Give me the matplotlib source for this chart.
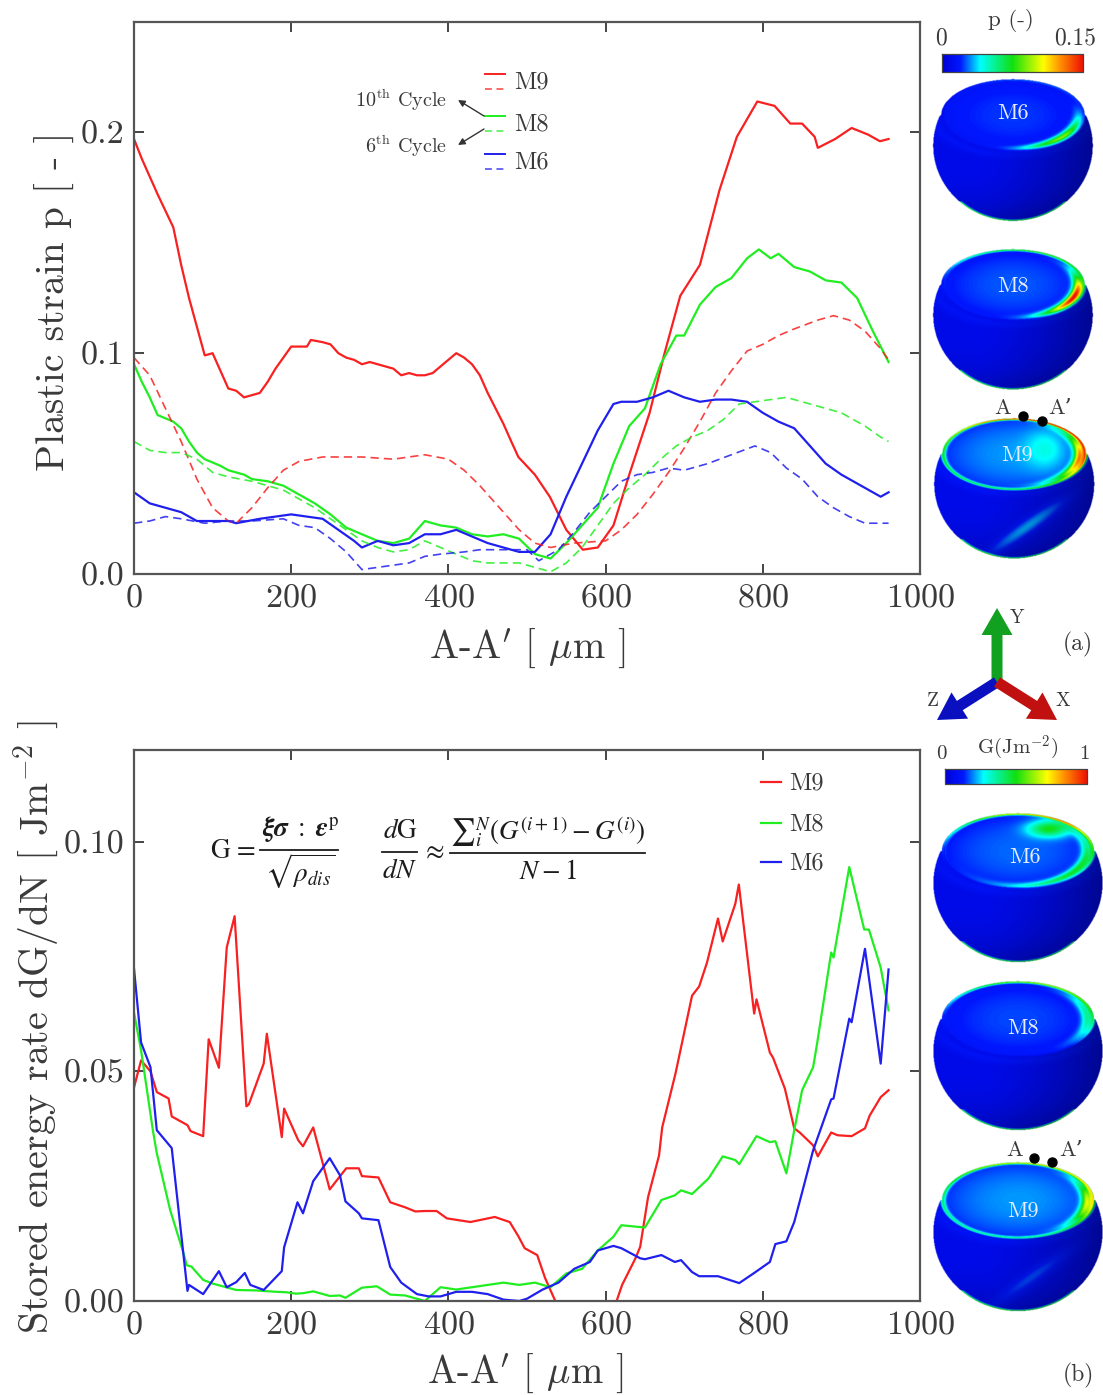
import numpy as np
import matplotlib
matplotlib.use("Agg")
import matplotlib.pyplot as plt
from matplotlib.colors import LinearSegmentedColormap
from matplotlib.patches import FancyArrow

# ================= data =================
x_m9_10 = [0, 10, 20, 30, 50, 60, 70, 80, 90, 100, 110, 120, 130, 140, 150, 160, 170, 180, 190, 200, 210, 220, 225, 240,
           250, 260, 270, 280, 290, 300, 310, 320, 330, 340, 350, 360, 370, 380, 390, 400, 410, 420, 430, 440, 450,
           460, 470, 480, 489, 510, 529, 550, 571, 590, 610, 631, 656, 675, 695, 720, 745, 767, 793, 815, 835, 850,
           866, 870, 892, 913, 934, 949, 960]
p_m9_10 = [.197, .188, .18, .172, .157, .14, .125, .112, .099, .1, .092, .084, .083, .08, .081, .082, .087, .093, .098,
           .103, .103, .103, .106, .105, .104, .1, .098, .097, .095, .096, .095, .094, .093, .09, .091, .09, .09, .091,
           .094, .097, .1, .098, .095, .09, .082, .075, .068, .06, .053, .045, .035, .02, .011, .012, .022, .046, .073,
           .1, .126, .14, .174, .198, .214, .212, .204, .204, .198, .193, .197, .202, .199, .196, .197]
x_m9_6 = [0, 20, 40, 60, 80, 100, 120, 130, 150, 170, 190, 210, 240, 260, 290, 330, 370, 400, 420, 440, 470, 490, 510,
          530, 560, 600, 620, 640, 660, 680, 700, 720, 740, 760, 780, 800, 820, 840, 870, 890, 910, 930, 950, 960]
p_m9_6 = [.098, .09, .075, .06, .043, .03, .024, .023, .03, .039, .047, .051, .053, .053, .053, .052, .054, .052, .047,
          .04, .028, .02, .014, .012, .014, .015, .02, .027, .036, .046, .057, .069, .082, .092, .101, .104, .108,
          .111, .115, .117, .115, .11, .102, .097]
x_m8_10 = [0, 10, 20, 30, 50, 60, 70, 80, 90, 110, 120, 140, 150, 170, 190, 210, 230, 250, 270, 290, 310, 330, 350, 370,
           390, 410, 430, 450, 470, 490, 510, 530, 550, 570, 590, 610, 630, 650, 670, 690, 700, 720, 740, 760, 780,
           795, 810, 820, 840, 860, 880, 900, 920, 940, 950, 960]
p_m8_10 = [.095, .087, .08, .072, .069, .066, .06, .055, .052, .049, .047, .045, .043, .042, .04, .036, .032, .027,
           .021, .018, .015, .014, .016, .024, .022, .021, .018, .017, .018, .016, .009, .007, .014, .022, .03, .05,
           .067, .075, .095, .108, .108, .122, .13, .134, .143, .147, .143, .145, .139, .137, .133, .132, .125, .11,
           .103, .096]
x_m8_6 = [0, 20, 40, 60, 80, 100, 120, 150, 170, 190, 210, 230, 250, 270, 290, 310, 330, 350, 370, 390, 410, 430, 450,
          470, 490, 510, 530, 550, 570, 590, 610, 630, 650, 670, 690, 710, 730, 750, 770, 790, 810, 830, 860, 880,
          900, 930, 950, 960]
p_m8_6 = [.06, .056, .055, .055, .052, .046, .044, .042, .04, .038, .034, .03, .025, .02, .015, .012, .01, .011, .015,
          .012, .009, .006, .005, .005, .005, .003, .001, .005, .012, .022, .032, .039, .045, .052, .058, .062, .065,
          .07, .077, .078, .079, .08, .077, .075, .073, .067, .062, .06]
x_m6_10 = [0, 20, 30, 40, 60, 80, 90, 120, 130, 160, 180, 200, 240, 260, 280, 290, 310, 330, 350, 370, 390, 410, 430,
           450, 470, 490, 510, 530, 550, 570, 590, 610, 620, 640, 660, 680, 700, 720, 740, 760, 780, 800, 820, 840,
           860, 880, 900, 920, 950, 960]
p_m6_10 = [.037, .032, .031, .03, .028, .024, .024, .024, .023, .025, .026, .027, .025, .02, .015, .012, .015, .013,
           .014, .018, .018, .02, .017, .014, .012, .01, .01, .018, .035, .05, .065, .077, .078, .078, .08, .083, .08,
           .078, .079, .079, .078, .073, .069, .066, .058, .05, .045, .041, .035, .037]
x_m6_6 = [0, 20, 40, 60, 90, 120, 150, 190, 210, 230, 250, 270, 290, 310, 330, 350, 370, 390, 420, 440, 470, 500, 515,
          540, 560, 580, 600, 620, 640, 660, 680, 700, 730, 760, 790, 810, 830, 850, 870, 890, 910, 930, 960]
p_m6_6 = [.023, .024, .026, .025, .023, .024, .024, .025, .022, .021, .016, .01, .002, .003, .004, .005, .008, .009,
          .01, .011, .011, .011, .006, .011, .019, .028, .035, .042, .045, .046, .048, .047, .05, .054, .058, .055,
          .048, .043, .035, .03, .026, .023, .023]

x_g_m9 = [0, 9, 21, 29, 44, 48, 68, 72, 88, 95, 108, 118, 128, 143, 146, 165, 169, 188, 191, 209, 215, 228, 249, 270,
          286, 290, 311, 326, 345, 358, 370, 385, 398, 428, 459, 478, 489, 497, 513, 523, 536, 570, 612, 621, 638,
          644, 654, 668, 672, 689, 710, 719, 729, 743, 749, 765, 769.5, 789, 792, 809, 813, 828, 840, 847, 864, 870,
          887, 895, 913, 930, 936, 950, 960]
g_m9 = [.0465, .0524, .05, .0455, .0441, .0402, .0383, .037, .0359, .057, .0508, .077, .0838, .0424, .0428, .0517,
        .0582, .0357, .0419, .035, .0337, .0378, .0243, .0289, .0289, .0272, .0269, .0215, .0204, .0195, .0196, .0196,
        .018, .0172, .0183, .0172, .0141, .0115, .01, .005, 0, -.02, -.001, .0035, .0093,
        .0118, .0226, .0317, .0378, .0496, .0665, .0685, .0737, .0833, .0783, .0865, .0907, .0626, .0657, .0541, .053,
        .0463, .0376, .0367, .0339, .0315, .0367, .0361, .0359, .0376, .0404, .0444, .0459]
x_g_m8 = [0, 9, 16, 24, 29, 46, 63, 67, 73, 88, 100, 130, 155, 181, 194, 206, 215, 228, 249, 262, 269, 290, 309, 326,
          345, 370, 390, 410, 430, 470, 490, 510, 530, 550, 570, 590, 610, 620, 644, 650, 671, 688, 696, 710, 731, 749,
          765, 770, 792, 809, 816, 830, 840, 850, 864, 869, 887, 890, 910, 929, 935, 950, 960]
g_m8 = [.0628, .0546, .0465, .0372, .0322, .0198, .0104, .0078, .0075, .0046, .0038, .0024, .0023, .002, .0019, .0016,
        .0017, .0021, .0011, .0012, .0007, .0029, .0032, .0014, .0012, 0, .003, .0025, .003, .004, .0035, .004, .003,
        .006, .007, .011, .014, .0165, .0161, .016, .022, .023, .0241, .0233, .0267, .0315, .0307, .0298, .0359, .0346,
        .0348, .0278, .0372, .0459, .0509, .056, .0759, .0748, .0945, .0809, .0809, .0726, .0633]
x_g_m6 = [0, 9, 21, 29, 48, 68, 70, 88, 108, 118, 130, 141, 148, 165, 188, 191, 208, 215, 228, 249, 262, 269, 286, 290,
          311, 326, 340, 360, 375, 390, 410, 430, 450, 470, 490, 500, 520, 540, 560, 580, 590, 610, 620, 644, 650,
          671, 688, 696, 710, 719, 743, 770, 789, 809, 816, 830, 840, 849, 864, 887, 890, 910, 913, 930, 950, 960]
g_m6 = [.0724, .0563, .0509, .0372, .0333, .0022, .0035, .0015, .0065, .003, .0041, .0061, .0035, .0024, .0065, .0117,
        .0215, .0191, .0261, .0311, .0274, .0217, .0191, .018, .0176, .0074, .004, .0015, .001, .001, .002, .002,
        .0015, .0003, 0, .0005, .0025, .004, .007, .0085, .011, .012, .0115, .0093, .0091, .01, .0085, .0089, .0063,
        .0054, .0054, .0039, .0061, .0085, .0124, .013, .0172, .023, .0328, .0439, .0441, .0615, .0607, .0767, .0517,
        .0722]

x_ticks = [0, 200, 400, 600, 800, 1000]
p_ticks = [0.0, 0.1, 0.2]
p_tick_labels = ["0.0", "0.1", "0.2"]
g_ticks = [0.0, 0.05, 0.10]
g_tick_labels = ["0.00", "0.05", "0.10"]
# ===============================================================

RED, GREEN, BLUE = "#f82020", "#20ee20", "#2020ee"
INK = "#3a3a3a"
W, H = 1103, 1395

plt.rcParams["font.family"] = ["cmr10", "DejaVu Serif"]
plt.rcParams["mathtext.fontset"] = "cm"
plt.rcParams["axes.unicode_minus"] = False
plt.rcParams["axes.formatter.use_mathtext"] = True

fig = plt.figure(figsize=(W / 100, H / 100), dpi=100)


def panel(left, top, right, bottom):
    ax = fig.add_axes([left / W, 1 - bottom / H, (right - left) / W, (bottom - top) / H])
    for s in ax.spines.values():
        s.set_linewidth(1.6)
        s.set_color("#555555")
    ax.tick_params(direction="in", length=7, width=1.4, color="#444444", top=True, right=True,
                   labelsize=24.5, labelcolor=INK, pad=7)
    ax.set_xlim(0, 1000)
    ax.set_xticks(x_ticks)
    return ax


# top panel
ax1 = panel(134, 22, 920, 574)
ax1.set_ylim(0, 0.25)
ax1.set_yticks(p_ticks)
ax1.set_yticklabels(p_tick_labels)
ax1.plot(x_m9_10, p_m9_10, color=RED, lw=1.6)
ax1.plot(x_m8_10, p_m8_10, color=GREEN, lw=1.6)
ax1.plot(x_m6_10, p_m6_10, color=BLUE, lw=1.6)
ax1.plot(x_m9_6, p_m9_6, color=RED, lw=1.2, dashes=(5, 3), alpha=0.85)
ax1.plot(x_m8_6, p_m8_6, color=GREEN, lw=1.2, dashes=(5, 3), alpha=0.85)
ax1.plot(x_m6_6, p_m6_6, color=BLUE, lw=1.2, dashes=(5, 3), alpha=0.85)

# bottom panel
ax2 = panel(134, 750, 920, 1301)
ax2.set_ylim(0, 0.12)
ax2.set_yticks(g_ticks)
ax2.set_yticklabels(g_tick_labels)
ax2.plot(x_g_m9, g_m9, color=RED, lw=1.6)
ax2.plot(x_g_m8, g_m8, color=GREEN, lw=1.6)
ax2.plot(x_g_m6, g_m6, color=BLUE, lw=1.6)

# overlay in picture pixels for everything that is not a plot
ov = fig.add_axes([0, 0, 1, 1], zorder=5)
ov.patch.set_alpha(0)
ov.axis("off")


def put(x, y, s, size=16, color=INK, **kw):
    kw.setdefault("ha", "center")
    kw.setdefault("va", "center")
    return ov.text(x, y, s, fontsize=size, color=color, **kw)


put(527, 648, r"A-A$'$ [ $\mu$m ]", 28)
put(525, 1373, r"A-A$'$ [ $\mu$m ]", 28)
put(55, 301, "Plastic strain p [ - ]", 28.5, rotation=90)
put(36, 1027, r"Stored energy rate dG/dN [ Jm$^{-2}$ ]", 28.7, rotation=90)

# legends
for y, col, lab in [(74, RED, "M9"), (116, GREEN, "M8"), (154, BLUE, "M6")]:
    ov.plot([485, 505], [y, y], color=col, lw=1.4)
    ov.plot([485, 505], [y + 15, y + 15], color=col, lw=1.1, dashes=(4.5, 3), alpha=0.85)
    put(514, y + 8, lab, 17.5, ha="left")
for y, col, lab in [(782, RED, "M9"), (823, GREEN, "M8"), (862, BLUE, "M6")]:
    ov.plot([761, 781], [y, y], color=col, lw=1.6)
    put(789, y + 1, lab, 17.5, ha="left")

put(401, 100, r"10$^{\mathrm{th}}$ Cycle", 14.5)
put(406, 146, r"6$^{\mathrm{th}}$ Cycle", 14.5)
arrow = dict(arrowstyle="-|>", color="#333333", lw=1.0, shrinkA=0, shrinkB=0, mutation_scale=10)
ov.annotate("", xy=(458, 100), xytext=(484, 116), arrowprops=arrow)
ov.annotate("", xy=(458, 145), xytext=(484, 129), arrowprops=arrow)

# formulas
FM = dict(math_fontfamily="stix", color="#1c1c1c")
put(233, 851, r"$\mathrm{G}\,=$", 19.5, **FM)
put(300, 829, r"$\boldsymbol{\xi\sigma}\ :\ \boldsymbol{\epsilon}^{\mathrm{p}}$", 19.5, **FM)
put(300, 871, r"$\sqrt{\rho_{dis}}$", 19.5, **FM)
put(400, 831, r"$d\mathrm{G}$", 19.5, **FM)
put(400, 871, r"$dN$", 19.5, **FM)
put(434, 852, r"$\approx$", 19.5, **FM)
put(548, 832, r"$\sum{}_{i}^{N}(G^{(i+1)}-G^{(i)})$", 19.5, **FM)
put(548, 872, r"$N-1$", 19.5, **FM)
for x0, x1, y in [(260, 338, 850), (382, 417, 852), (450, 645, 853)]:
    ov.plot([x0, x1], [y, y], color="#1c1c1c", lw=1.3)

# colour bars
bar_cmap = LinearSegmentedColormap.from_list(
    "bar", [(0, "#0000d8"), (0.13, "#0018ff"), (0.27, "#00ffff"), (0.5, "#10e010"),
            (0.72, "#ffff00"), (0.84, "#ff9000"), (1, "#f01000")])
grad = np.linspace(0, 1, 256)[None, :]
for x0, x1, y0, y1 in [(942, 1083, 54, 72), (945, 1087, 769, 784)]:
    ov.imshow(grad, extent=(x0, x1, y1, y0), cmap=bar_cmap, aspect="auto", zorder=2)
    ov.plot([x0, x1, x1, x0, x0], [y0, y0, y1, y1, y0], color="#444444", lw=0.9, zorder=3)
put(1011, 21, "p (-)", 16.5)
put(941, 38, "0", 17)
put(1075, 38, "0.15", 17)
put(1018, 748, r"G(Jm$^{-2}$)", 15)
put(941, 754, "0", 15)
put(1084, 754, "1", 15)


def ball(cx, top, sx, sy, dish, amp, ang, wid, ring=0.0, allround=0.0, stripe=0.0, wedge=0.0, blob=0.0):
    # simple stand-in for the contour render of one deformed sphere
    xs = np.linspace(cx - 90, cx + 90, 360)
    ys = np.linspace(top - 3, top + 155, 316)
    xx, yy = np.meshgrid(xs, ys)
    dx, dy = (xx - cx) / sx, (yy - top) / sy
    cyd = 37
    u, v = dx / 72, (dy - cyd) / 37
    rd = np.sqrt(u ** 2 + v ** 2)
    th = np.arctan2(v, u)
    bx, by = dx / 80, (dy - 68) / 77
    rb = np.sqrt(bx ** 2 + by ** 2)
    inside = ((rb <= 1) & (dy > cyd)) | (rd <= 1)
    # body, dish, then the worn rim
    val = np.full_like(xx, 0.06)
    val = val + 0.035 * np.exp(-((rd - 1.1) / 0.1) ** 2) * (dy > cyd)
    val = np.where(rd < 0.96, dish * (1 - 0.4 * rd ** 2) + 0.03, val)
    da = np.arctan2(np.sin(th - np.radians(ang)), np.cos(th - np.radians(ang)))
    fade = allround + (1 - allround) * np.clip(0.5 + 0.5 * np.cos(th + np.radians(70)), 0, 1) ** 2
    val = val + np.exp(-((rd - 0.985) / 0.03) ** 2) * ring * fade
    val = val + np.exp(-((rd - 0.91) / 0.075) ** 2) * amp * np.exp(-(da / np.radians(wid)) ** 2)
    val = val + 0.45 * np.exp(-((rb - 1) / 0.016) ** 2) * (dy > 125)
    if stripe:
        d = ((dx - 13) * 0.71 + (dy - 112)) / (1.23 * 7)
        val = val + stripe * np.exp(-d ** 2) * np.exp(-((dx - 13) / 40) ** 2) * (rd > 1)
    if wedge:
        val = val + wedge * np.exp(-((dx - 32) / 20) ** 2 - ((dy - cyd + 6) / 22) ** 2) * (rd < 1)
    if blob:
        val = val + blob * np.exp(-((dx - 30) / 20) ** 2 - ((dy - cyd + 22) / 8) ** 2) * (rd < 1)
    img = bar_cmap(np.clip(val, 0, 1))
    shade = 1 - 0.38 * np.clip((dx + 35) / 115, 0, 1) ** 1.5 * (rd > 1)
    shade = shade - 0.22 * np.clip(by, 0, 1) ** 3 * (rd > 1)
    img[..., :3] = img[..., :3] * shade[..., None]
    img[..., 3] = inside
    ov.imshow(img, extent=(xs[0], xs[-1], ys[-1], ys[0]), aspect="auto", interpolation="bilinear", zorder=2)


ball(1013, 79, 1.0, 0.98, 0.12, 0.5, 42, 36, ring=0.12)
ball(1013, 249, 1.0, 0.97, 0.14, 0.9, 22, 38, ring=0.5)
ball(1013.5, 418, 1.0, 0.97, 0.18, 0.72, 8, 42, ring=0.95, allround=0.4, stripe=0.16, wedge=0.1)
ball(1018, 813, 1.06, 1.03, 0.15, 0.36, 30, 62, ring=0.75, blob=0.35)
ball(1018, 981, 1.06, 1.03, 0.13, 0.26, -5, 38, ring=0.6)
ball(1018, 1162, 1.06, 1.03, 0.18, 0.55, 5, 35, ring=0.7, allround=0.45, stripe=0.1)

for x, y, lab in [(1013, 113, "M6"), (1013, 286, "M8"), (1017, 455, "M9"),
                  (1025, 857, "M6"), (1023, 1028, "M8"), (1023, 1211, "M9")]:
    put(x, y, lab, 16, color="#e8ecff", zorder=6)

ov.plot([1023, 1042], [416, 421], "o", color="black", ms=6.5, zorder=6)
ov.plot([1034, 1052], [1158, 1162], "o", color="black", ms=6.5, zorder=6)
put(1003, 408, "A", 16, zorder=6)
put(1060, 408, "A’", 16, zorder=6)
put(1015, 1150, "A", 16, zorder=6)
put(1071, 1150, "A’", 16, zorder=6)

# coordinate triad
for x0, y0, dx, dy, c in [(997, 684, 0, -76, "#12a020"), (997, 682, -60, 38, "#0a10c0"), (997, 682, 60, 38, "#c01010")]:
    ov.add_patch(FancyArrow(x0, y0, dx, dy, width=11, head_width=31, head_length=27,
                            length_includes_head=True, color=c, lw=0, zorder=3))
put(1017, 618, "Y", 14)
put(1063, 701, "X", 14)
put(933, 701, "Z", 14)
put(1078, 644, "(a)", 17)
put(1078, 1375, "(b)", 17)

ov.set_xlim(0, W)
ov.set_ylim(H, 0)
fig.savefig("out.png", dpi=100)
